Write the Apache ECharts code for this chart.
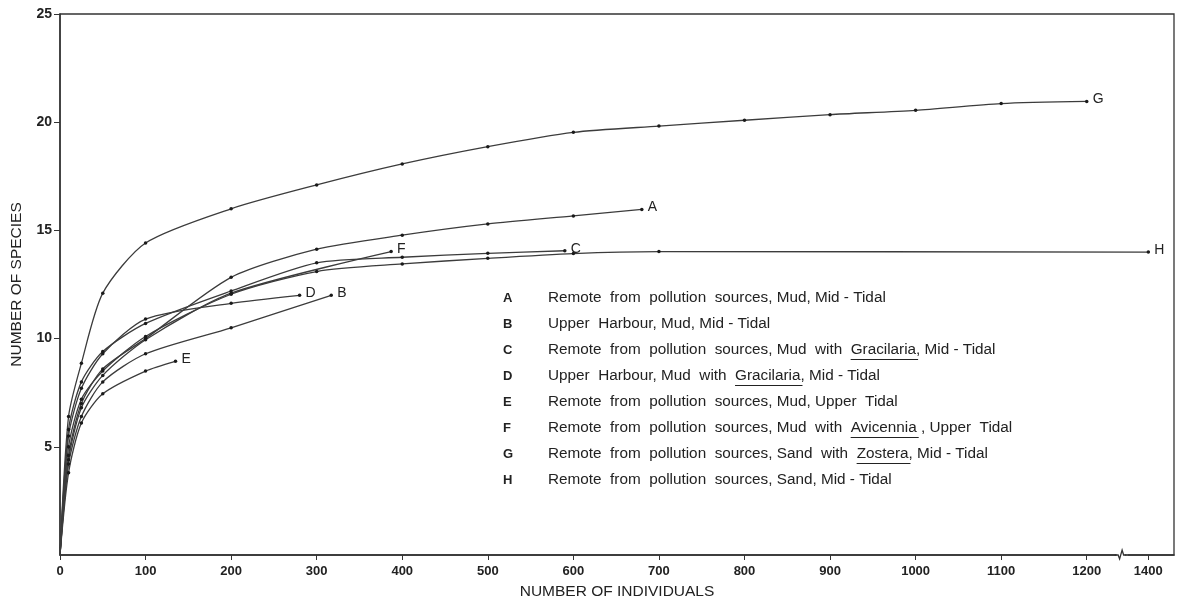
<!DOCTYPE html>
<html><head><meta charset="utf-8">
<script src="https://cdn.jsdelivr.net/npm/echarts@6/dist/echarts.min.js"></script>
<style>html,body{margin:0;padding:0;background:#fff}#c{width:1183px;height:600px}</style>
</head><body><div id="c"></div>
<script>
// ---- data ----
const seriesNames = ['A','B','C','D','E','F','G','H'];
const xA = [0,10,25,50,100,200,300,400,500,600,680];
const yA = [0,4.6,7.0,8.6,10.0,12.83,14.13,14.78,15.3,15.67,15.97];
const xB = [0,10,25,50,100,200,317];
const yB = [0,4.2,6.4,8.0,9.3,10.5,12.0];
const xC = [0,10,25,50,100,200,300,400,500,590];
const yC = [0,5.8,8.0,9.4,10.7,12.2,13.5,13.76,13.94,14.06];
const xD = [0,10,25,50,100,200,280];
const yD = [0,5.5,7.7,9.3,10.9,11.63,12.0];
const xE = [0,10,25,50,100,135];
const yE = [0,3.8,6.1,7.45,8.5,8.95];
const xF = [0,10,25,50,100,200,387];
const yF = [0,4.4,6.8,8.3,9.95,12.1,14.02];
const xG = [0,10,25,50,100,200,300,400,500,600,700,800,900,1000,1100,1200];
const yG = [0,6.4,8.86,12.1,14.42,16.0,17.1,18.07,18.87,19.53,19.82,20.09,20.35,20.55,20.86,20.96];
const xH = [0,10,25,50,100,200,300,400,500,600,700,1400];
const yH = [0,5.0,7.2,8.5,10.1,12.05,13.1,13.45,13.71,13.93,14.02,14.0];
const xTicks = [0,100,200,300,400,500,600,700,800,900,1000,1100,1200,1400];
const yTicks = [5,10,15,20,25];
const legendRows = [
  ['A','Remote  from  pollution  sources, Mud, Mid - Tidal', ''],
  ['B','Upper  Harbour, Mud, Mid - Tidal', ''],
  ['C','Remote  from  pollution  sources, Mud  with  Gracilaria, Mid - Tidal', 'Gracilaria'],
  ['D','Upper  Harbour, Mud  with  Gracilaria, Mid - Tidal', 'Gracilaria'],
  ['E','Remote  from  pollution  sources, Mud, Upper  Tidal', ''],
  ['F','Remote  from  pollution  sources, Mud  with  Avicennia , Upper  Tidal', 'Avicennia'],
  ['G','Remote  from  pollution  sources, Sand  with  Zostera, Mid - Tidal', 'Zostera'],
  ['H','Remote  from  pollution  sources, Sand, Mid - Tidal', '']
];
const X = [xA,xB,xC,xD,xE,xF,xG,xH];
const Y = [yA,yB,yC,yD,yE,yF,yG,yH];

// ---- chart ----
const FONT = '"Liberation Sans", Arial, sans-serif';
const ink = '#222';
const chart = echarts.init(document.getElementById('c'), null, {renderer:'canvas'});

const series = seriesNames.map((n, i) => ({
  type: 'line', name: n,
  data: X[i].map((x, j) => [x, Y[i][j]]),
  smooth: 0.25,
  symbol: (v) => (v[0] === 0 ? 'none' : 'circle'),
  symbolSize: 3.5, showSymbol: true,
  lineStyle: {color: '#3c3c3c', width: 1.3},
  itemStyle: {color: '#1a1a1a'},
  emphasis: {disabled: true},
  endLabel: {show: true, formatter: n, distance: 6, offset: [0, -2],
             color: ink, fontSize: 14, fontFamily: FONT},
  animation: false
}));

chart.setOption({
  animation: false,
  grid: {left: 60, right: 9, top: 14, bottom: 45, show: true,
         borderColor: '#333', borderWidth: 1.3, containLabel: false,
         outerBoundsMode: 'none'},
  xAxis: {
    type: 'value', min: 0, max: 1430,
    breaks: [{start: 1240, end: 1376, gap: 8}],
    breakArea: {show: false},
    name: 'NUMBER OF INDIVIDUALS', nameLocation: 'middle', nameGap: 29,
    nameTextStyle: {fontFamily: FONT, fontSize: 15.5, color: ink},
    axisLine: {show: true, lineStyle: {color: '#333', width: 1.5}},
    axisTick: {show: true, length: 5, customValues: xTicks, lineStyle: {color: '#333'}},
    axisLabel: {customValues: xTicks, margin: 10, fontFamily: FONT, fontWeight: 'bold',
                fontSize: 13, color: ink, formatter: (v) => String(v)},
    splitLine: {show: false}
  },
  yAxis: {
    type: 'value', min: 0, max: 25, interval: 5,
    name: 'NUMBER OF SPECIES', nameLocation: 'middle', nameGap: 35, nameRotate: 90,
    nameTextStyle: {fontFamily: FONT, fontSize: 15.5, color: ink},
    axisLine: {show: true, lineStyle: {color: '#333', width: 1.5}},
    axisTick: {show: true, length: 6, customValues: yTicks, lineStyle: {color: '#333'}},
    axisLabel: {customValues: yTicks, margin: 8, fontFamily: FONT, fontWeight: 'bold',
                fontSize: 14, color: ink, formatter: (v) => String(v)},
    splitLine: {show: false}
  },
  series: series
});

// ---- legend block (text + underlines) and axis-break notch ----
const ctx = document.createElement('canvas').getContext('2d');
const legFont = '15.3px ' + FONT;
ctx.font = legFont;
const elements = [];
const rowTop = 298, rowStep = 26, letterX = 503, textX = 548;
legendRows.forEach((r, i) => {
  const cy = rowTop + i * rowStep;
  elements.push({type: 'text', z: 10, style: {text: r[0], x: letterX, y: cy,
    font: 'bold 13px ' + FONT, fill: ink, verticalAlign: 'middle'}});
  elements.push({type: 'text', z: 10, style: {text: r[1], x: textX, y: cy,
    font: legFont, fill: ink, verticalAlign: 'middle'}});
  if (r[2]) {
    const k = r[1].indexOf(r[2]);
    const x0 = textX + ctx.measureText(r[1].slice(0, k)).width;
    const w = ctx.measureText(r[2]).width;
    elements.push({type: 'line', z: 10, shape: {x1: x0, y1: cy + 9.5, x2: x0 + w + 2, y2: cy + 9.5},
      style: {stroke: ink, lineWidth: 1}});
  }
});
const p1 = chart.convertToPixel({xAxisIndex: 0}, 1200);
const p2 = chart.convertToPixel({xAxisIndex: 0}, 1400);
const bx = p1 + (p2 - p1) * 0.55;
const by = chart.convertToPixel({yAxisIndex: 0}, 0);
elements.push({type: 'rect', z: 20, shape: {x: bx - 4, y: by - 2, width: 8, height: 4},
  style: {fill: '#fff'}});
elements.push({type: 'polyline', z: 21, shape: {points: [[bx - 6, by], [bx - 2.5, by], [bx - 1, by + 4], [bx + 1.5, by - 5], [bx + 3, by], [bx + 6, by]]},
  style: {stroke: '#333', lineWidth: 1.3, fill: null}});
chart.setOption({graphic: {elements: elements}});
</script>
</body></html>
